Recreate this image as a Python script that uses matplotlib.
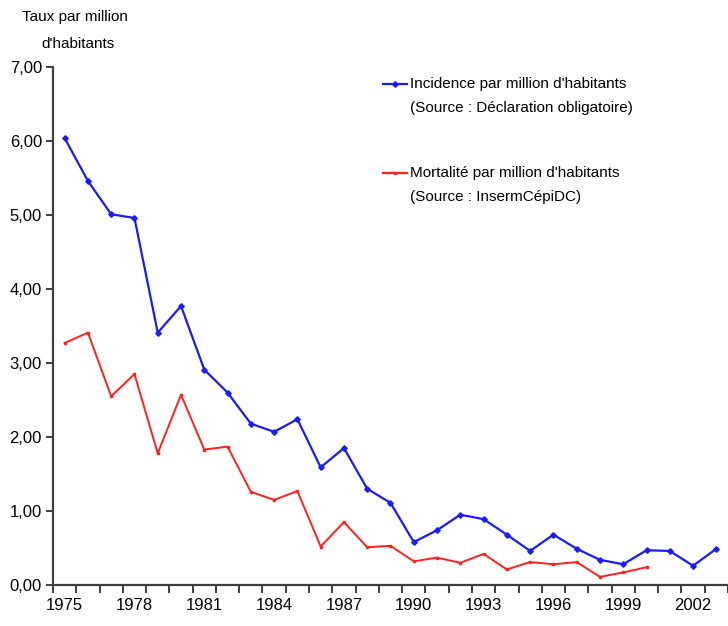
import matplotlib.pyplot as plt
from matplotlib.lines import Line2D

# ====== données ======
annees = list(range(1975, 2004))
incidence = [6.04, 5.46, 5.01, 4.96, 3.41, 3.77, 2.91, 2.60, 2.18, 2.07,
             2.24, 1.59, 1.85, 1.30, 1.11, 0.58, 0.74, 0.95, 0.89, 0.68,
             0.46, 0.68, 0.49, 0.34, 0.28, 0.47, 0.46, 0.26, 0.49]
annees_mort = list(range(1975, 2001))
mortalite = [3.27, 3.41, 2.55, 2.85, 1.78, 2.57, 1.83, 1.87, 1.26, 1.15,
             1.27, 0.52, 0.85, 0.51, 0.53, 0.32, 0.37, 0.30, 0.42, 0.21,
             0.31, 0.28, 0.31, 0.11, 0.17, 0.24]
annees_labels = list(range(1975, 2003, 3))
y_ticks = [0, 1, 2, 3, 4, 5, 6, 7]

FONT = ['Liberation Sans Narrow', 'Liberation Sans', 'DejaVu Sans']
plt.rcParams['font.family'] = FONT

fig = plt.figure(figsize=(7.28, 6.26), dpi=100)
ax = fig.add_axes([53 / 728, 1 - 585 / 626, 1 - 53 / 728, (585 - 67) / 626])

ax.plot(annees, incidence, color='#1a1aff', lw=1.6, marker='D', ms=2.8)
ax.plot(annees_mort, mortalite, color='#ff2020', lw=1.4, marker='s', ms=1.8)

ax.set_xlim(1974.5, 2003.33)
ax.set_ylim(0, 7)

# axes style
for s in ['top', 'right']:
    ax.spines[s].set_visible(False)
for s in ['left', 'bottom']:
    ax.spines[s].set_color('#404040')
    ax.spines[s].set_linewidth(1.6)

ax.set_yticks(y_ticks)
ax.set_yticklabels([f"{v:.2f}".replace('.', ',') for v in y_ticks])
ax.tick_params(axis='y', direction='out', length=5, width=1.4, color='#404040',
               labelsize=12, pad=3)

# ticks entre catégories, labels au centre
ax.set_xticks([a - 0.5 for a in annees] + [2003.5])
ax.set_xticklabels([])
ax.tick_params(axis='x', which='major', direction='out', length=6, width=1.4,
               color='#404040')
ax.set_xticks(annees_labels, minor=True)
ax.set_xticklabels([str(a) for a in annees_labels], minor=True)
ax.tick_params(axis='x', which='minor', length=0, labelsize=12, pad=9)

# titre axe y
fig.text(75 / 728, 1 - 17 / 626, "Taux par million", ha='center', va='center', fontsize=11)
fig.text(78 / 728, 1 - 44 / 626, "d'habitants", ha='center', va='center', fontsize=11)

# légende
def entree(y_px, couleur, marker, ms, lignes):
    fig.add_artist(Line2D([383 / 728, 407 / 728], [1 - y_px / 626] * 2,
                          transform=fig.transFigure, color=couleur, lw=1.6))
    fig.add_artist(Line2D([395 / 728], [1 - y_px / 626], transform=fig.transFigure,
                          color=couleur, marker=marker, ms=ms))
    for i, t in enumerate(lignes):
        fig.text(410 / 728, 1 - (y_px + i * 24) / 626, t, ha='left', va='center',
                 fontsize=11)

entree(84, '#1a1aff', 'D', 2.8, ["Incidence par million d'habitants",
                                 "(Source : Déclaration obligatoire)"])
entree(173, '#ff2020', 's', 1.8, ["Mortalité par million d'habitants",
                                  "(Source : InsermCépiDC)"])

plt.savefig('out.png', dpi=100)
